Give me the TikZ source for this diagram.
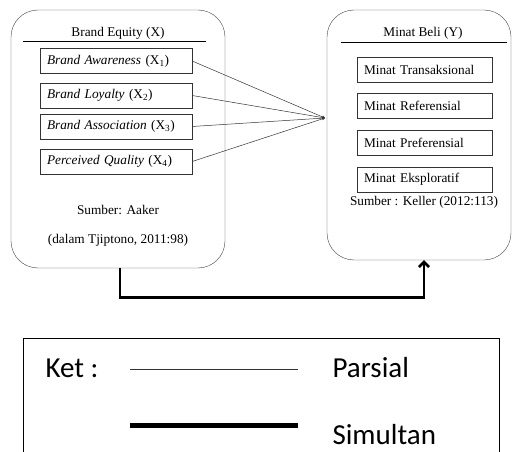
\documentclass[tikz,border=0pt]{standalone}
\usepackage{fontspec}
\setmainfont{Liberation Serif}
\newfontfamily\ketfont{Carlito}
\usetikzlibrary{arrows.meta}

\begin{document}
\begin{tikzpicture}[x=1pt, y=-1pt,
    every node/.style={font=\fontsize{13.3}{15}\selectfont},
    grup/.style={draw=black!75, rounded corners=27pt},
    item/.style={draw=black!80, minimum height=25pt, inner xsep=7pt, inner ysep=0pt, align=left},
    parsial/.style={draw=black!80, line width=0.7pt},
    simul/.style={line width=2.6pt},
    ket/.style={anchor=west, font=\ketfont\fontsize{29}{31}\selectfont}]
    \useasboundingbox (0,0) rectangle (512,452);
    \clip (0,0) rectangle (512,452);
    % variabel X
    \node[grup, minimum width=214pt, minimum height=258pt] (bex) at (118,139) {};
    \node (tbex) at (118,33) {Brand Equity (X)};
    \draw (23,41) -- (206,41);
    \node[item, text width=138pt] (x1) at (116,61) {\textit{Brand Awareness} (X\textsubscript{1})};
    \node[item, text width=138pt] (x2) at (116,95.5) {\textit{Brand Loyalty} (X\textsubscript{2})};
    \node[item, text width=138pt] (x3) at (116,126.5) {\textit{Brand Association} (X\textsubscript{3})};
    \node[item, text width=138pt] (x4) at (116,161.5) {\textit{Perceived Quality} (X\textsubscript{4})};
    \node (sx1) at (118,210) {Sumber: Aaker};
    \node (sx2) at (118,240) {(dalam Tjiptono, 2011:98)};
    % variabel Y
    \node[grup, minimum width=184pt, minimum height=250pt] (mb) at (419,135) {};
    \node (tmb) at (423,33) {Minat Beli (Y)};
    \draw (341,42) -- (507,42);
    \node[item, text width=121pt] (y1) at (424.5,69.5) {Minat Transaksional};
    \node[item, text width=121pt] (y2) at (424.5,106) {Minat Referensial};
    \node[item, text width=121pt] (y3) at (424.5,143) {Minat Preferensial};
    \node[item, text width=121pt] (y4) at (424.5,179.5) {Minat Eksploratif};
    \node (sy) at (424,202) {Sumber : Keller (2012:113)};
    % hubungan
    \coordinate (temu) at (325,118);
    \foreach \i in {1,...,4}
        \draw[parsial, line width=0.5pt, -{Stealth[length=3pt,width=3pt]}] (x\i.east) -- (temu);
    \draw[simul, -{Straight Barb[length=5pt,width=10pt]}] ([xshift=2pt]bex.south) -- ++(0,29) -| ([xshift=5pt]mb.south);
    % keterangan
    \draw[line width=0.9pt] (23,338) rectangle (499,480);
    \node[ket] (k) at (42,368) {Ket :};
    \draw[parsial] (130,369) -- (298,369);
    \node[ket] (kp) at (329,368) {Parsial};
    \draw[simul, line width=5pt] (130,425) -- (298,425);
    \node[ket] (ks) at (329,435) {Simultan};
\end{tikzpicture}
\end{document}
